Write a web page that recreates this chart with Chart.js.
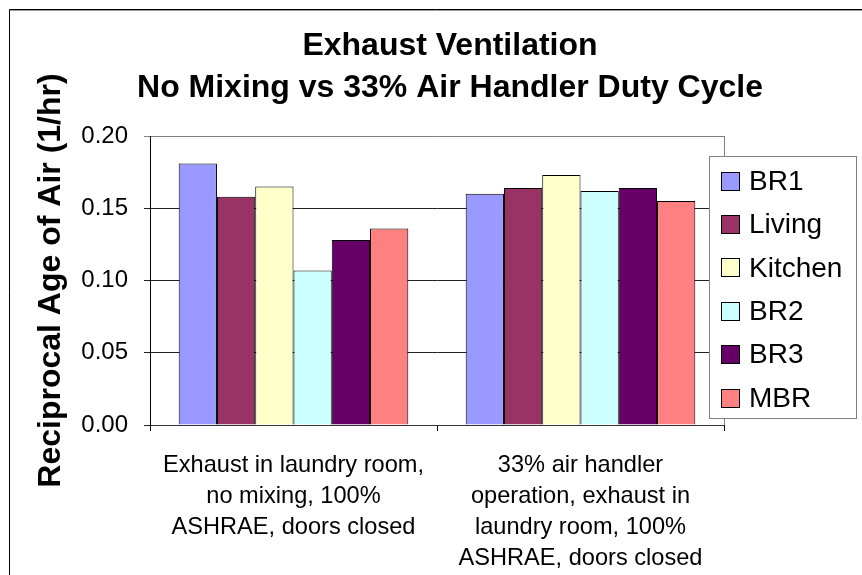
<!DOCTYPE html>
<html>
<head>
<meta charset="utf-8">
<script src="https://cdn.jsdelivr.net/npm/chart.js@4/dist/chart.umd.min.js"></script>
<style>
  body { margin: 0; background: #fff; }
  #wrap { width: 862px; height: 575px; }
</style>
</head>
<body>
<div id="wrap"><canvas id="grafico" width="862" height="575"></canvas></div>
<script>
// dados do grafico
const categorias = [
    ["Exhaust in laundry room,", "no mixing, 100%", "ASHRAE, doors closed"],
    ["33% air handler", "operation, exhaust in", "laundry room, 100%", "ASHRAE, doors closed"]
];
const nomesSeries = ["BR1", "Living", "Kitchen", "BR2", "BR3", "MBR"];
const br1 = [0.181, 0.160];
const living = [0.158, 0.164];
const kitchen = [0.165, 0.173];
const br2 = [0.107, 0.162];
const br3 = [0.128, 0.164];
const mbr = [0.136, 0.155];
const coresSeries = ["#9999FF", "#993366", "#FFFFCC", "#CCFFFF", "#660066", "#FF8080"];
const yMin = 0, yMax = 0.20, yPasso = 0.05;

const valores = [br1, living, kitchen, br2, br3, mbr];
const fonte = '"Liberation Sans", Arial, sans-serif';

// fundo branco + moldura externa + borda da area do grafico
const moldura = {
    id: 'moldura',
    beforeDraw(chart) {
        const ctx = chart.ctx;
        ctx.save();
        ctx.fillStyle = '#fff';
        ctx.fillRect(0, 0, chart.width, chart.height);
        ctx.lineWidth = 1;
        ctx.strokeStyle = '#000';
        ctx.beginPath();
        ctx.moveTo(9.5, chart.height);
        ctx.lineTo(9.5, 9.5);
        ctx.lineTo(chart.width, 9.5);
        ctx.stroke();
        ctx.strokeStyle = '#999';
        ctx.beginPath();
        ctx.moveTo(10, 10.5);
        ctx.lineTo(chart.width, 10.5);
        ctx.stroke();
        ctx.restore();
    },
    beforeDatasetsDraw(chart) {
        const a = chart.chartArea;
        const ctx = chart.ctx;
        ctx.save();
        ctx.strokeStyle = '#808080';
        ctx.lineWidth = 1;
        ctx.beginPath();
        ctx.moveTo(Math.round(a.right) + 0.5, a.bottom);
        ctx.lineTo(Math.round(a.right) + 0.5, a.top);
        ctx.stroke();
        ctx.restore();
    }
};

// legenda desenhada a mao (caixa sobreposta ao grafico)
const legenda = {
    id: 'legenda',
    afterDraw(chart) {
        const ctx = chart.ctx;
        ctx.save();
        ctx.fillStyle = '#fff';
        ctx.fillRect(709.5, 156.5, 147, 262);
        ctx.strokeStyle = '#808080';
        ctx.lineWidth = 1;
        ctx.strokeRect(709.5, 156.5, 147, 262);
        ctx.font = '28px ' + fonte;
        ctx.textBaseline = 'middle';
        ctx.textAlign = 'left';
        chart.data.datasets.forEach(function (ds, i) {
            const y = 181 + i * 43.4;
            ctx.fillStyle = ds.backgroundColor;
            ctx.fillRect(721, Math.round(y - 9.5), 19, 19);
            ctx.strokeStyle = '#000';
            ctx.strokeRect(721.5, Math.round(y - 9.5) + 0.5, 18, 18);
            ctx.fillStyle = '#000';
            ctx.fillText(ds.label, 749, y + 1);
        });
        ctx.restore();
    }
};

const grafico = new Chart(document.getElementById('grafico').getContext('2d'), {
    type: 'bar',
    data: {
        labels: categorias,
        datasets: nomesSeries.map(function (nome, i) {
            return {
                label: nome,
                data: valores[i],
                backgroundColor: coresSeries[i],
                borderColor: '#000',
                borderWidth: 1,
                categoryPercentage: 0.8,
                barPercentage: 1.0
            };
        })
    },
    options: {
        responsive: false,
        animation: false,
        devicePixelRatio: 1,
        // padding esquerdo desloca o titulo para a direita, como no original
        layout: { padding: { left: 38, right: 0, top: 0, bottom: 0 } },
        plugins: {
            legend: { display: false },
            tooltip: { enabled: false },
            title: {
                display: true,
                text: ['Exhaust Ventilation', 'No Mixing vs 33% Air Handler Duty Cycle'],
                color: '#000',
                font: { family: fonte, size: 32, weight: 'bold', lineHeight: 1.3125 },
                padding: { top: 25, bottom: 27 }
            }
        },
        scales: {
            x: {
                grid: { offset: true, drawOnChartArea: false, tickLength: 6, color: '#000' },
                border: { color: '#333', width: 1 },
                ticks: {
                    color: '#000',
                    maxRotation: 0,
                    autoSkip: false,
                    padding: 19,
                    font: { family: fonte, size: 23.6, lineHeight: 1.31 }
                },
                afterFit(scale) { scale.height = 150; }
            },
            y: {
                min: yMin,
                max: yMax,
                grid: {
                    tickLength: 6,
                    color: function (c) { return c.tick && c.tick.value >= yMax ? '#808080' : '#222'; }
                },
                border: { color: '#000', width: 1 },
                ticks: {
                    stepSize: yPasso,
                    color: '#000',
                    padding: 16,
                    font: { family: fonte, size: 24 },
                    callback: function (v) { return Number(v).toFixed(2); }
                },
                title: {
                    display: true,
                    text: 'Reciprocal Age of Air (1/hr)',
                    color: '#000',
                    font: { family: fonte, size: 32, weight: 'bold', lineHeight: 1.2 },
                    padding: { top: -6, bottom: 0 }
                },
                afterFit(scale) { scale.width = 112; }
            },
            // eixo vazio a direita so para reservar o espaco da legenda
            espaco: {
                position: 'right',
                display: true,
                grid: { display: false },
                border: { display: false },
                ticks: { display: false },
                afterFit(scale) { scale.width = 138; }
            }
        }
    },
    plugins: [moldura, legenda]
});
</script>
</body>
</html>
